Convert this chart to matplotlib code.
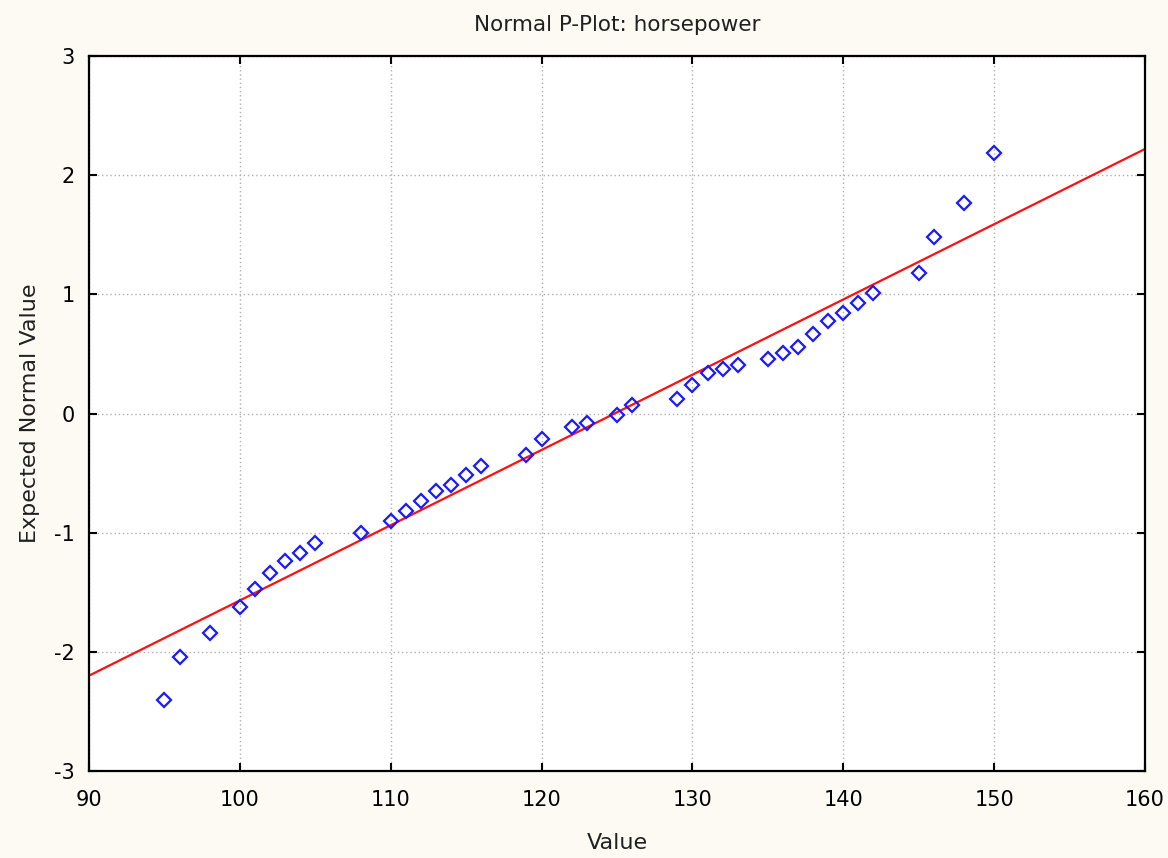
import matplotlib.pyplot as plt

plt.rcParams['axes.unicode_minus'] = False

# horsepower values and expected normal values
hp = [95, 96, 98, 100, 101, 102, 103, 104, 105, 108,
      110, 111, 112, 113, 114, 115, 116, 119, 120, 122,
      123, 125, 126, 129, 130, 131, 132, 133, 135, 136,
      137, 138, 139, 140, 141, 142, 145, 146, 148, 150]
expected = [-2.40, -2.04, -1.84, -1.62, -1.47, -1.34, -1.24, -1.17, -1.09, -1.00,
            -0.90, -0.82, -0.73, -0.65, -0.60, -0.52, -0.44, -0.35, -0.21, -0.11,
            -0.08, -0.01, 0.07, 0.12, 0.24, 0.34, 0.37, 0.41, 0.46, 0.51,
            0.56, 0.67, 0.78, 0.84, 0.93, 1.01, 1.18, 1.48, 1.77, 2.19]

# reference line end points
line_x = [90, 160]
line_y = [-2.20, 2.22]

xticks = [90, 100, 110, 120, 130, 140, 150, 160]
yticks = [-3, -2, -1, 0, 1, 2, 3]

bg = '#FDFAF4'
fig = plt.figure(figsize=(11.68, 8.58), dpi=100, facecolor=bg)
ax = fig.add_axes([0.0762, 0.1014, 0.9041, 0.8333])
ax.set_facecolor('white')

ax.plot(line_x, line_y, color='#FF1010', lw=1.6, zorder=2)
ax.plot(hp, expected, linestyle='none', marker='D', markersize=7.5,
        markerfacecolor='none', markeredgecolor='#1A1AFF', markeredgewidth=1.6, zorder=3)

ax.set_xlim(90, 160)
ax.set_ylim(-3, 3)
ax.set_xticks(xticks)
ax.set_yticks(yticks)
ax.grid(True, linestyle=(0, (1, 2)), color='#B0B0B0', linewidth=1.0)

ax.tick_params(direction='in', length=6, width=1.5, top=True, right=True,
               labelsize=15, pad=10, colors='black')
ax.tick_params(axis='x', pad=14)
for s in ax.spines.values():
    s.set_linewidth(1.6)

ax.set_title('Normal P-Plot: horsepower', fontsize=15.5, pad=18, color='#202020')
ax.set_xlabel('Value', fontsize=16, labelpad=16, color='#202020')
ax.set_ylabel('Expected Normal Value', fontsize=16, labelpad=10, color='#202020')

fig.savefig('out.png', dpi=100, facecolor=bg)
